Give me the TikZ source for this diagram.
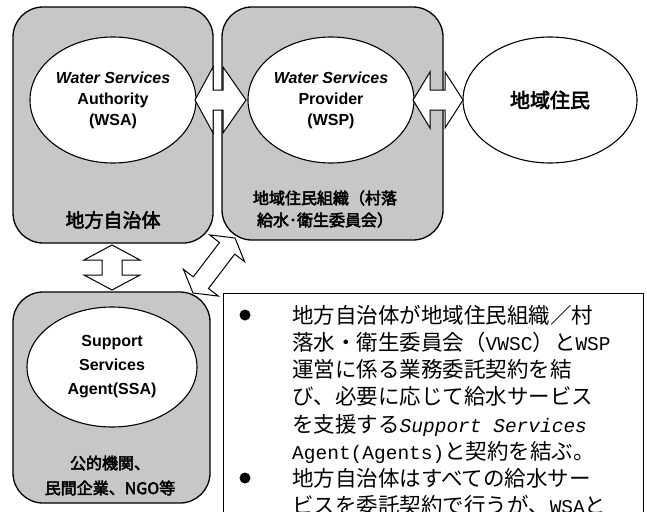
\documentclass[tikz,border=0pt]{standalone}
\usepackage{fontspec}
\setmainfont{Liberation Sans}
\newfontfamily\cjk{Noto Sans CJK JP}
\newfontfamily\cjkb{Noto Sans CJK JP}[FakeBold=3]
\newfontfamily\mono{Liberation Mono}
\usetikzlibrary{shapes.geometric}
\tikzset{
  grpbox/.style={draw, line width=1.3pt, fill=black!22, rounded corners=30pt, inner sep=0pt},
  oval/.style={draw, ellipse, line width=1.1pt, fill=white, inner sep=0pt, align=center,
     font=\bfseries\fontsize{16}{21}\selectfont},
  blockarr/.style={draw, fill=white, line width=1pt, line join=miter},
  lbl/.style={inner sep=0pt, align=center},
  notetext/.style={anchor=base west, inner sep=0pt, font=\cjk\fontsize{21.5}{26}\selectfont},
  notebox/.style={draw, line width=1pt, fill=white, inner sep=0pt, anchor=north west}
}
\newcommand{\lat}[1]{{\mono\fontsize{19.5}{26}\selectfont #1}}
\begin{document}
\begin{tikzpicture}[x=1pt,y=-1pt]
\useasboundingbox (0,0) rectangle (647,511);
\clip (0,0) rectangle (647,511);
% group boxes
\node[grpbox, minimum width=200pt, minimum height=236pt] (lga) at (113,125) {};
\node[grpbox, minimum width=221pt, minimum height=233pt] (org) at (332.5,123.5) {};
\node[grpbox, minimum width=197pt, minimum height=211pt] (ssab) at (111.5,397.5) {};
% ellipses
\node[oval, minimum width=166pt, minimum height=126pt] (wsa) at (113,100)
  {{\itshape Water Services}\\Authority\\(WSA)};
\node[oval, minimum width=166pt, minimum height=126pt] (wsp) at (331,100)
  {{\itshape Water Services}\\Provider\\(WSP)};
\node[oval, minimum width=174pt, minimum height=126pt, font=\cjkb\fontsize{20}{24}\selectfont] (res) at (550,100)
  {地域住民};
\node[oval, minimum width=170pt, minimum height=120pt, font=\bfseries\fontsize{16}{24}\selectfont] (ssa) at (112,367)
  {Support\\Services\\Agent(SSA)};
% group labels
\node[lbl, font=\cjkb\fontsize{19}{22}\selectfont] (lgal) at (113,220) {地方自治体};
\node[lbl, font=\cjkb\fontsize{16}{22}\selectfont] (orgl) at (325,209) {地域住民組織（村落\\給水･衛生委員会）};
\node[lbl, font=\cjkb\fontsize{16}{25}\selectfont] (ssal) at (110,475.5) {公的機関、\\民間企業、NGO等};
% note box
\node[notebox, minimum width=420pt, minimum height=260pt] (note) at (223,293) {};
\fill (245,315) circle (5.5pt);
\fill (245,478) circle (5.5pt);
\node[notetext] (t1) at (292,323) {地方自治体が地域住民組織／村};
\node[notetext] (t2) at (292,350) {落水・衛生委員会（\lat{VWSC}）と\lat{WSP}};
\node[notetext] (t3) at (292,377) {運営に係る業務委託契約を結};
\node[notetext] (t4) at (292,404) {び、必要に応じて給水サービス};
\node[notetext] (t5) at (292,432) {を支援する\lat{\itshape Support Services}};
\node[notetext] (t6) at (292,459) {\lat{Agent(Agents)}と契約を結ぶ。};
\node[notetext] (t7) at (292,486) {地方自治体はすべての給水サー};
\node[notetext] (t8) at (292,513) {ビスを委託契約で行うが、\lat{WSA}と};
% block arrows
\draw[blockarr] (195,100) -- (213,67) -- (213,90) -- (223,90) -- (223,67) -- (246,100)
  -- (223,133) -- (223,110) -- (213,110) -- (213,133) -- cycle;
\draw[blockarr] (413,100) -- (430,72) -- (430,90) -- (445,90) -- (445,72) -- (463,100)
  -- (445,128) -- (445,110) -- (430,110) -- (430,128) -- cycle;
\draw[blockarr] (112,245) -- (140,260) -- (122,260) -- (122,275) -- (140,275) -- (112,290)
  -- (84,275) -- (102,275) -- (102,260) -- (84,260) -- cycle;
\draw[blockarr] (193,293) -- (218.4,296.1) -- (208.5,288.5) -- (234.7,254.1) -- (244.6,261.7)
  -- (235,238) -- (209.6,234.9) -- (219.5,242.5) -- (193.3,276.9) -- (183.4,269.3) -- cycle;
\end{tikzpicture}
\end{document}
